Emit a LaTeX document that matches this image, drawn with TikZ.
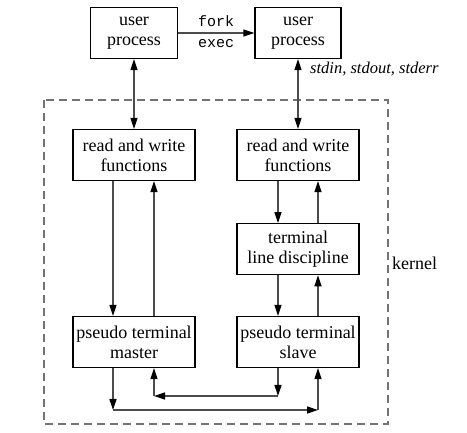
\documentclass[tikz,border=0pt]{standalone}
\usepackage{fontspec}
\setmainfont{Liberation Serif}
\setmonofont{Liberation Mono}
\usetikzlibrary{arrows.meta,positioning}

\tikzstyle{block}=[draw=black,line width=1.2pt,align=center,minimum width=122pt,minimum height=51pt,inner sep=0pt,font=\fontsize{18}{20}\selectfont]
\tikzstyle{line}=[draw=black!70,line width=1.3pt]
\tikzstyle{texto}=[inner sep=0pt]

\begin{document}
\begin{tikzpicture}[x=1pt,y=-1pt,>={Triangle[length=11pt,width=7pt,color=black]}]
  \useasboundingbox (0,0) rectangle (467,433);

  % kernel frame
  \draw [black!55,line width=1.3pt,dash pattern=on 8pt off 5pt] (44,100) rectangle (388,424);
  \node [texto,anchor=west,font=\fontsize{18}{20}\selectfont] (kern) at (392,263) {kernel};

  \begin{scope}

    \node [block,minimum width=87pt] (up1) at (134,33) {user\\process};
    \node [block,minimum width=86pt] (up2) at (298,33) {user\\process};

    \node [block] (rw1) at (134,155) {read and write\\functions};
    \node [block] (rw2) at (298,155) {read and write\\functions};

    \node [block] (ld) [below=42pt of rw2] {terminal\\line discipline};

    \node [block] (ptm) at (134,342) {pseudo terminal\\master};
    \node [block] (pts) at (298,342) {pseudo terminal\\slave};

    \draw [line,->] (up1) -- (up2)
      node [texto,midway,above=6pt,font=\fontsize{15}{18}\ttfamily] (fork) {fork}
      node [texto,midway,below=6pt,font=\fontsize{15}{18}\ttfamily] (exec) {exec};

    \node [texto,anchor=west,font=\fontsize{16.5}{20}\itshape] (std) at (310,69) {stdin, stdout, stderr};

    \draw [line,<->] (up1) -- (rw1);
    \draw [line,<->] (up2) -- (rw2);

    \draw [line,->] ([xshift=-21pt]rw1.south) -- ([xshift=-21pt]ptm.north);
    \draw [line,->] ([xshift=20pt]ptm.north) -- ([xshift=20pt]rw1.south);

    \draw [line,->] ([xshift=-20pt]rw2.south) -- ([xshift=-20pt]ld.north);
    \draw [line,->] ([xshift=20pt]ld.north) -- ([xshift=20pt]rw2.south);
    \draw [line,->] ([xshift=-20pt]ld.south) -- ([xshift=-20pt]pts.north);
    \draw [line,->] ([xshift=20pt]pts.north) -- ([xshift=20pt]ld.south);

    % master to slave
    \coordinate (m1) at (113,410);
    \coordinate (m2) at (318,410);
    \draw [line,->] ([xshift=-21pt]ptm.south) -- (m1);
    \draw [line,->] (m1) -- (m2);
    \draw [line,->] (m2) -- ([xshift=20pt]pts.south);

    % slave to master
    \coordinate (s1) at (278,396);
    \coordinate (s2) at (154,396);
    \draw [line,->] ([xshift=-20pt]pts.south) -- (s1);
    \draw [line,->] (s1) -- (s2);
    \draw [line,->] (s2) -- ([xshift=20pt]ptm.south);
  \end{scope}

\end{tikzpicture}
\end{document}
